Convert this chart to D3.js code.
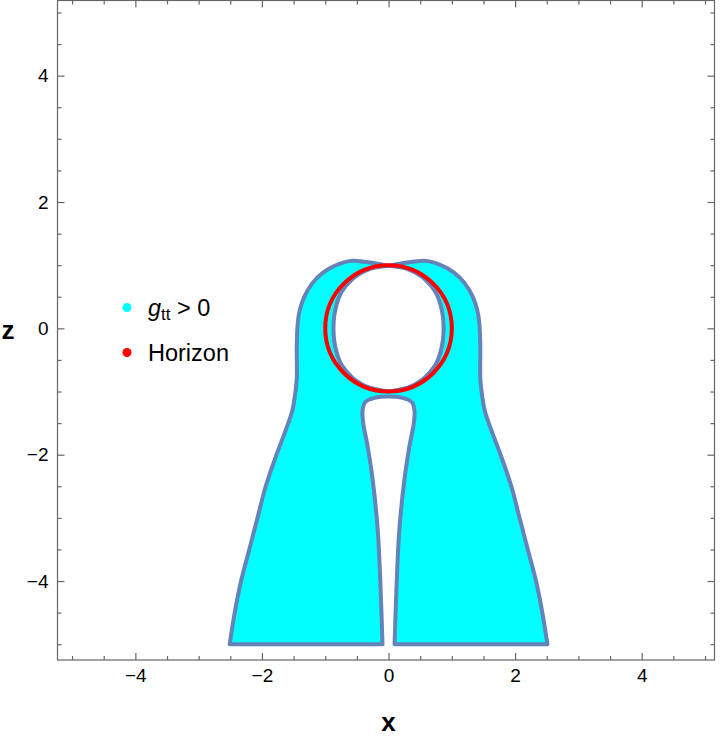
<!DOCTYPE html>
<html>
<head>
<meta charset="utf-8">
<script src="https://cdn.jsdelivr.net/npm/d3@7"></script>
<style>
  body { margin: 0; background: #fff; }
  svg { display: block; }
</style>
</head>
<body>
<svg id="chart"></svg>
<script>
"use strict";

var width = 720
  , height = 740;

// plot range (data units) as read from the frame
var xDomain = [-5.23, 5.15]
  , zDomain = [-5.25, 5.19];

var majorTicks = [-4, -2, 0, 2, 4];
var minorTicks = [-5, -4.5, -3.5, -3, -2.5, -1.5, -1, -0.5, 0.5, 1, 1.5, 2.5, 3, 3.5, 4.5, 5];

// boundary of the g_tt > 0 region, [x, z]
var outerLeft = [
  [-2.51, -5], [-2.43, -4.5], [-2.33, -4], [-2.2, -3.5], [-2.07, -3], [-1.94, -2.5],
  [-1.77, -2], [-1.62, -1.6], [-1.52, -1.3], [-1.47, -1.0], [-1.45, -0.8], [-1.45, -0.3],
  [-1.44, 0], [-1.42, 0.2], [-1.37, 0.4], [-1.28, 0.6], [-1.13, 0.8], [-0.93, 0.95],
  [-0.72, 1.04], [-0.57, 1.07], [-0.42, 1.06], [-0.22, 1.03], [0, 0.99]
];
var outerRight = [
  [0, 0.99], [0.22, 1.03], [0.42, 1.06], [0.57, 1.07], [0.72, 1.04], [0.93, 0.95],
  [1.13, 0.8], [1.28, 0.6], [1.37, 0.4], [1.42, 0.2], [1.44, 0], [1.45, -0.3],
  [1.45, -0.8], [1.47, -1.0], [1.52, -1.3], [1.62, -1.6], [1.77, -2], [1.94, -2.5],
  [2.07, -3], [2.2, -3.5], [2.33, -4], [2.43, -4.5], [2.51, -5]
];
var gap = [
  [0.095, -5], [0.13, -4], [0.17, -3.2], [0.25, -2.4], [0.33, -1.87], [0.40, -1.5],
  [0.41, -1.3], [0.37, -1.17], [0.22, -1.1], [0, -1.08], [-0.22, -1.1], [-0.37, -1.17],
  [-0.41, -1.3], [-0.40, -1.5], [-0.33, -1.87], [-0.25, -2.4], [-0.17, -3.2],
  [-0.13, -4], [-0.095, -5]
];
var holeLeft = [
  [0, 0.99], [-0.3, 0.94], [-0.43, 0.88], [-0.57, 0.78], [-0.74, 0.58], [-0.82, 0.38],
  [-0.86, 0.18], [-0.87, 0], [-0.86, -0.18], [-0.82, -0.38], [-0.74, -0.58], [-0.57, -0.78],
  [-0.43, -0.88], [-0.3, -0.94], [0, -1.0]
];
var holeRight = [
  [0, -1.0], [0.3, -0.94], [0.43, -0.88], [0.57, -0.78], [0.74, -0.58], [0.82, -0.38],
  [0.86, -0.18], [0.87, 0], [0.86, 0.18], [0.82, 0.38], [0.74, 0.58], [0.57, 0.78],
  [0.43, 0.88], [0.3, 0.94], [0, 0.99]
];

var horizonRadius = 1;

var legendItems = [
  { key: "gtt", color: "#00ffff" },
  { key: "Horizon", color: "#ff0000" }
];

var svg = d3.select("#chart")
  .attr("width", width)
  .attr("height", height);

var x = d3.scaleLinear().domain(xDomain).range([57.5, 714.5]);
var z = d3.scaleLinear().domain(zDomain).range([660, 0.5]);

var line = d3.line()
  .x(function (d) { return x(d[0]); })
  .y(function (d) { return z(d[1]); })
  .curve(d3.curveCatmullRom.alpha(0.5));

function cont(pts) {
  return line(pts).replace(/^M/, "L");
}

// region: outer contour (with the slit) minus the hole
var regionD = line(outerLeft) + cont(outerRight) + cont(gap) + "Z"
  + line(holeLeft) + cont(holeRight) + "Z";

svg.append("path")
  .attr("d", regionD)
  .attr("fill", "#00ffff")
  .attr("fill-rule", "evenodd")
  .attr("stroke", "#6483b8")
  .attr("stroke-width", 4)
  .attr("stroke-linejoin", "round");

// horizon
svg.append("ellipse")
  .attr("cx", x(0))
  .attr("cy", z(0))
  .attr("rx", x(horizonRadius) - x(0))
  .attr("ry", z(0) - z(horizonRadius))
  .attr("fill", "none")
  .attr("stroke", "#ff0000")
  .attr("stroke-width", 4);

// frame
svg.append("rect")
  .attr("x", 57.5)
  .attr("y", 0.5)
  .attr("width", 714.5 - 57.5)
  .attr("height", 660 - 0.5)
  .attr("fill", "none")
  .attr("stroke", "#666")
  .attr("stroke-width", 1.2);

var fmt = function (d) { return d < 0 ? "\u2212" + Math.abs(d) : String(d); };

function axis(gen, tx, ty, size, vals, labels) {
  var a = gen.tickValues(vals).tickSize(size).tickPadding(labels ? 9 : 0)
    .tickFormat(labels ? fmt : "");
  var g = svg.append("g")
    .attr("transform", "translate(" + tx + "," + ty + ")")
    .call(a);
  g.select(".domain").remove();
  g.selectAll("line").attr("stroke", "#666").attr("stroke-width", 1.2);
  g.selectAll("text")
    .attr("fill", "#000")
    .style("font-family", "'Liberation Sans', Arial, sans-serif")
    .style("font-size", "19px");
  return g;
}

axis(d3.axisBottom(x), 0, 660, -7, majorTicks, true);
axis(d3.axisBottom(x), 0, 660, -4, minorTicks, false);
axis(d3.axisTop(x), 0, 0.5, -7, majorTicks, false);
axis(d3.axisTop(x), 0, 0.5, -4, minorTicks, false);
axis(d3.axisLeft(z), 57.5, 0, -7, majorTicks, true);
axis(d3.axisLeft(z), 57.5, 0, -4, minorTicks, false);
axis(d3.axisRight(z), 714.5, 0, -7, majorTicks, false);
axis(d3.axisRight(z), 714.5, 0, -4, minorTicks, false);

// axis labels
svg.append("text")
  .attr("x", x(0))
  .attr("y", 731)
  .attr("text-anchor", "middle")
  .style("font-family", "'Liberation Sans', Arial, sans-serif")
  .style("font-size", "26px")
  .style("font-weight", "bold")
  .text("x");

svg.append("text")
  .attr("x", 8)
  .attr("y", 339)
  .attr("text-anchor", "middle")
  .style("font-family", "'Liberation Sans', Arial, sans-serif")
  .style("font-size", "26px")
  .style("font-weight", "bold")
  .text("z");

// legend
var legend = svg.append("g")
  .style("font-family", "'Liberation Sans', Arial, sans-serif")
  .style("font-size", "23.5px");

legendItems.forEach(function (d, i) {
  var cy = 307.5 + i * 45;
  legend.append("circle")
    .attr("cx", 127)
    .attr("cy", cy)
    .attr("r", 4.5)
    .attr("fill", d.color);
  var t = legend.append("text")
    .attr("x", 148)
    .attr("y", cy + 8.5);
  if (d.key === "gtt") {
    t.append("tspan").style("font-style", "italic").text("g");
    t.append("tspan").attr("dy", 4).style("font-size", "17px").text("tt");
    t.append("tspan").attr("dy", -4).text(" > 0");
  } else {
    t.text(d.key);
  }
});
</script>
</body>
</html>
